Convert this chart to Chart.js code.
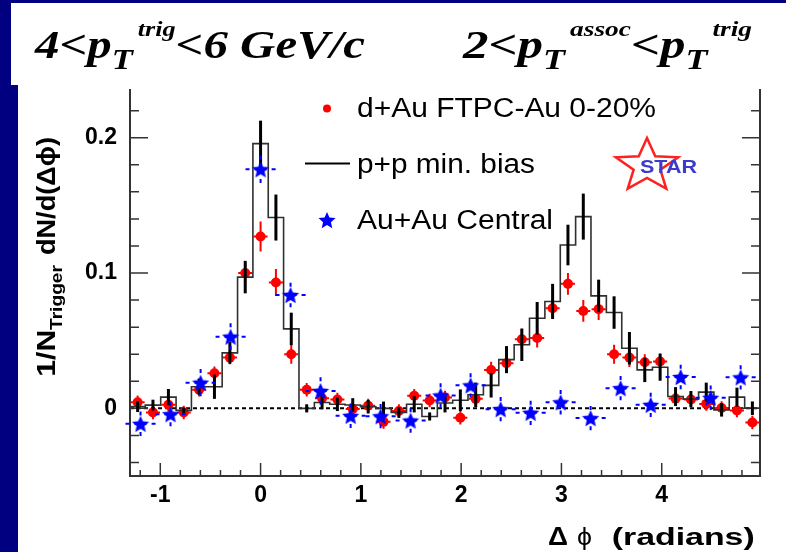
<!DOCTYPE html>
<html><head><meta charset="utf-8">
<script src="https://cdn.jsdelivr.net/npm/chart.js@4.4.0/dist/chart.umd.min.js"></script>
<style>html,body{margin:0;padding:0;background:#000080;overflow:hidden}canvas{display:block}</style>
</head><body>
<canvas id="c" width="786" height="552"></canvas>
<script>
// ---- data ----
const binCenters = [-1.226,-1.073,-0.919,-0.766,-0.613,-0.460,-0.306,-0.153,0,0.153,0.306,0.460,0.613,0.766,0.919,1.073,1.226,1.379,1.532,1.686,1.839,1.992,2.145,2.299,2.452,2.605,2.758,2.912,3.065,3.218,3.371,3.525,3.678,3.831,3.984,4.138,4.291,4.444,4.597,4.750,4.904];
const ppValues = [0.0013,0.0024,0.0083,-0.0015,0.016,0.016,0.041,0.097,0.1956,0.141,0.0587,0.0,0.0043,0.003,0.0025,0.0012,0.0,-0.003,0.003,-0.006,0.004,0.006,0.010,0.017,0.036,0.047,0.0666,0.079,0.1207,0.1417,0.0831,0.0708,0.0444,0.0284,0.0304,0.0087,0.0068,0.012,-0.0011,0.0083,0.0001];
const ppErr = [0.004,0.004,0.006,0.002,0.006,0.009,0.008,0.012,0.017,0.017,0.012,0.003,0.005,0.005,0.005,0.005,0.005,0.004,0.006,0.003,0.007,0.008,0.009,0.009,0.010,0.012,0.012,0.013,0.015,0.017,0.012,0.012,0.012,0.009,0.010,0.007,0.006,0.007,0.005,0.007,0.005];
const dAuValues = [0.0045,-0.003,0.0026,-0.003,0.0137,0.026,0.0375,0.100,0.127,0.093,0.040,0.0137,0.0075,0.0065,-0.0005,0.002,-0.010,-0.002,0.0093,0.0058,0.008,-0.007,0.007,0.0284,0.0334,0.051,0.052,0.074,0.092,0.072,0.0733,0.040,0.0375,0.034,0.0346,0.0072,0.0065,0.0033,0.0003,-0.0016,-0.0105];
const dAuErr = [0.005,0.005,0.005,0.005,0.005,0.005,0.005,0.0075,0.011,0.010,0.007,0.005,0.005,0.005,0.005,0.005,0.005,0.005,0.005,0.005,0.005,0.005,0.005,0.006,0.006,0.007,0.007,0.007,0.008,0.008,0.008,0.007,0.007,0.006,0.006,0.005,0.005,0.005,0.005,0.005,0.005];
const dAuXErr = 0.07;
const auauX = [-1.197,-0.898,-0.598,-0.299,0,0.299,0.598,0.898,1.197,1.496,1.795,2.094,2.394,2.693,2.992,3.291,3.590,3.890,4.189,4.488,4.787];
const auauValues = [-0.0114,-0.0043,0.019,0.053,0.1767,0.0838,0.0129,-0.0055,-0.0058,-0.009,0.0095,0.017,-0.0006,-0.0033,0.0045,-0.0072,0.0149,0.0026,0.0232,0.0078,0.0229];
const auauErr = [0.009,0.009,0.010,0.0098,0.0102,0.009,0.010,0.009,0.009,0.009,0.009,0.009,0.009,0.009,0.009,0.009,0.009,0.009,0.009,0.009,0.009];
const auauXErr = 0.15;
const xTickVals = [-1,0,1,2,3,4];
const yTickVals = [0,0.1,0.2];
const X_MIN = -1.302, X_MAX = 4.98, Y_MIN = -0.05, Y_MAX = 0.236;
const legendLabels = ['d+Au FTPC-Au 0-20%','p+p min. bias','Au+Au Central'];

const SANS = '"Liberation Sans", Arial, Helvetica, sans-serif';
const SERIF = '"Liberation Serif", "Times New Roman", serif';

// filled five-point star marker
function makeStar(R, color){
  const s = Math.ceil(R*2)+2, c = document.createElement('canvas');
  c.width = s; c.height = s; const g = c.getContext('2d');
  starPath(g, s/2, s/2 + R*0.1, R, R*0.46, 1);
  g.fillStyle = color; g.fill();
  return c;
}
function starPath(g, cx, cy, R, r, sx){
  g.beginPath();
  for (let i=0;i<10;i++){
    const rad = i%2===0 ? R : r;
    const a = -Math.PI/2 + i*Math.PI/5;
    const px = cx + Math.cos(a)*rad*sx, py = cy + Math.sin(a)*rad;
    if (i===0) g.moveTo(px,py); else g.lineTo(px,py);
  }
  g.closePath();
}
const starImg = makeStar(9, '#0000ff');
const starLegend = makeStar(9, '#0000ff');

function fitText(ctx, text, x, y, font, w){
  ctx.font = font;
  const m = ctx.measureText(text).width;
  ctx.save(); ctx.translate(x, y); ctx.scale(w/m, 1);
  ctx.textAlign = 'left'; ctx.textBaseline = 'alphabetic';
  ctx.fillText(text, 0, 0); ctx.restore();
}
function drawRuns(ctx, runs, x0, w){
  let tot = 0;
  runs.forEach(r=>{ ctx.font = r.f; r.w = ctx.measureText(r.t).width; tot += r.w + (r.g||0); });
  const s = w/tot;
  ctx.save(); ctx.translate(x0, 0); ctx.scale(s, 1);
  ctx.textAlign='left'; ctx.textBaseline='alphabetic';
  let x = 0;
  runs.forEach(r=>{ ctx.font = r.f; ctx.fillText(r.t, x, r.y); x += r.w + (r.g||0); });
  ctx.restore();
}

const deco = {
  id: 'deco',
  beforeDraw(chart){
    const c = chart.ctx; c.save();
    c.fillStyle = '#000080'; c.fillRect(0,0,786,552);
    c.fillStyle = '#ffffff'; c.fillRect(11,3,775,82); c.fillRect(18,85,768,467);
    c.restore();
  },
  beforeDatasetsDraw(chart){
    const c = chart.ctx, xs = chart.scales.x, ys = chart.scales.y, a = chart.chartArea;
    c.save();
    // zero line
    c.strokeStyle = '#000'; c.lineWidth = 2; c.setLineDash([4,3]);
    const y0 = ys.getPixelForValue(0);
    c.beginPath(); c.moveTo(a.left, y0); c.lineTo(a.right, y0); c.stroke();
    c.setLineDash([]);
    // frame
    c.strokeStyle = '#333'; c.lineWidth = 2;
    c.beginPath(); c.moveTo(a.left, a.top); c.lineTo(a.left, a.bottom); c.lineTo(a.right, a.bottom); c.lineTo(a.right, a.top); c.stroke();
    // y ticks
    c.lineWidth = 1.5;
    for (let k=-2;k<=11;k++){
      const v = k*0.02, p = ys.getPixelForValue(v);
      if (p < a.top || p > a.bottom) continue;
      const L = (k%5===0) ? 18 : 9;
      c.beginPath(); c.moveTo(a.left, p); c.lineTo(a.left+L, p); c.moveTo(a.right, p); c.lineTo(a.right-L, p); c.stroke();
    }
    // x ticks
    for (let k=-6;k<=24;k++){
      const v = k*0.2, p = xs.getPixelForValue(v);
      if (p < a.left || p > a.right) continue;
      const L = (k%5===0) ? 13 : 6;
      c.beginPath(); c.moveTo(p, a.bottom); c.lineTo(p, a.bottom-L); c.stroke();
    }
    c.restore();
  },
  beforeDatasetDraw(chart, args){
    const ds = chart.data.datasets[args.index];
    const c = chart.ctx, xs = chart.scales.x, ys = chart.scales.y;
    c.save();
    if (ds.label === legendLabels[0]){
      c.strokeStyle = '#ff0000'; c.lineWidth = 2;
      binCenters.forEach((x,i)=>{
        const px = xs.getPixelForValue(x), py = ys.getPixelForValue(dAuValues[i]);
        c.beginPath();
        c.moveTo(px, ys.getPixelForValue(dAuValues[i]+dAuErr[i])); c.lineTo(px, ys.getPixelForValue(dAuValues[i]-dAuErr[i]));
        c.moveTo(xs.getPixelForValue(x-dAuXErr), py); c.lineTo(xs.getPixelForValue(x+dAuXErr), py);
        c.stroke();
      });
    }
    if (ds.label === legendLabels[2]){
      c.strokeStyle = '#0000ff'; c.lineWidth = 2; c.setLineDash([4,5]);
      auauX.forEach((x,i)=>{
        const px = xs.getPixelForValue(x), py = ys.getPixelForValue(auauValues[i]);
        const ends = [[px, ys.getPixelForValue(auauValues[i]+auauErr[i])],[px, ys.getPixelForValue(auauValues[i]-auauErr[i])],
                      [xs.getPixelForValue(x-auauXErr), py],[Math.min(xs.getPixelForValue(x+auauXErr), chart.chartArea.right), py]];
        ends.forEach(e=>{ c.beginPath(); c.moveTo(e[0], e[1]); c.lineTo(px, py); c.stroke(); });
      });
    }
    c.restore();
  },
  afterDatasetDraw(chart, args){
    const ds = chart.data.datasets[args.index];
    if (ds.label !== legendLabels[1]) return;
    const c = chart.ctx, xs = chart.scales.x, ys = chart.scales.y;
    c.save(); c.strokeStyle = '#000'; c.lineWidth = 3;
    binCenters.forEach((x,i)=>{
      const px = xs.getPixelForValue(x);
      c.beginPath(); c.moveTo(px, ys.getPixelForValue(ppValues[i]+ppErr[i])); c.lineTo(px, ys.getPixelForValue(ppValues[i]-ppErr[i])); c.stroke();
    });
    c.restore();
  },
  afterDraw(chart){
    const c = chart.ctx; c.save(); c.fillStyle = '#000';
    // title
    const big = 'italic bold 41px '+SERIF, sub = 'italic bold 29px '+SERIF, sup = 'italic bold 22px '+SERIF;
    drawRuns(c, [{t:'4<p',f:big,y:58},{t:'T',f:sub,y:69,g:4},{t:'trig',f:sup,y:36},{t:'<6 GeV/c',f:big,y:58}], 35, 330);
    drawRuns(c, [{t:'2<p',f:big,y:58},{t:'T',f:sub,y:69,g:4},{t:'assoc',f:sup,y:36},{t:'<p',f:big,y:58},{t:'T',f:sub,y:69,g:4},{t:'trig',f:sup,y:36}], 463, 289);
    // legend
    c.fillStyle = '#ff0000'; c.beginPath(); c.arc(327, 108.5, 4, 0, Math.PI*2); c.fill();
    c.strokeStyle = '#000'; c.lineWidth = 2; c.beginPath(); c.moveTo(305,163.5); c.lineTo(350,163.5); c.stroke();
    c.drawImage(starLegend, 327 - starLegend.width/2, 220 - starLegend.height/2);
    c.fillStyle = '#000';
    const lf = '27px '+SANS;
    fitText(c, legendLabels[0], 357, 117, lf, 299);
    fitText(c, legendLabels[1], 357, 173, lf, 178);
    fitText(c, legendLabels[2], 357, 228.5, lf, 196);
    // y axis title (rotated)
    c.save(); c.translate(55, 376.7); c.rotate(-Math.PI/2);
    fitText(c, '1/N', 0, 0, 'bold 25px '+SANS, 47);
    c.restore();
    c.save(); c.translate(62, 330); c.rotate(-Math.PI/2);
    fitText(c, 'Trigger', 0, 0, 'bold 17px '+SANS, 65);
    c.restore();
    c.save(); c.translate(55, 255); c.rotate(-Math.PI/2);
    fitText(c, 'dN/d(\u0394\u03D5)', 0, 0, 'bold 25px '+SANS, 118);
    c.restore();
    // x axis title
    fitText(c, '\u0394', 548, 545, 'bold 25px '+SANS, 20);
    fitText(c, '\u03D5', 577, 545, '24px '+SANS, 15);
    fitText(c, '(radians)', 611.7, 545, 'bold 24px '+SANS, 143);
    // STAR logo
    c.strokeStyle = '#ff2020'; c.lineWidth = 2.5;
    starPath(c, 647, 166, 28, 12, 1.17); c.stroke();
    c.fillStyle = '#3c3ccc';
    fitText(c, 'STAR', 640, 173, 'bold 19px '+SANS, 57);
    c.restore();
  }
};

const tickFont = {family: SANS, size: 23, weight: 'bold'};
new Chart(document.getElementById('c'), {
  type: 'scatter',
  data: {
    datasets: [
      { label: legendLabels[2], order: 0, data: auauX.map((x,i)=>({x, y: auauValues[i]})),
        pointStyle: starImg, pointRadius: 9, showLine: false },
      { label: legendLabels[1], order: 1, type: 'line', showLine: true, stepped: 'middle', fill: false,
        borderColor: '#303030', borderWidth: 1.6, pointRadius: 0,
        data: [{x: X_MIN, y: ppValues[0]}].concat(binCenters.map((x,i)=>({x, y: ppValues[i]})), [{x: X_MAX, y: ppValues[ppValues.length-1]}]) },
      { label: legendLabels[0], order: 2, data: binCenters.map((x,i)=>({x, y: dAuValues[i]})),
        pointStyle: 'circle', pointRadius: 5, backgroundColor: '#ff0000', borderWidth: 0, showLine: false }
    ]
  },
  plugins: [deco],
  options: {
    responsive: false, animation: false, devicePixelRatio: 1,
    layout: {padding: {left: 0, top: 89, right: 26, bottom: 0}},
    plugins: {legend: {display: false}, tooltip: {enabled: false}},
    scales: {
      x: { type: 'linear', min: X_MIN, max: X_MAX, grid: {display: false}, border: {display: false},
           ticks: {font: tickFont, color: '#000', padding: -2, maxRotation: 0, autoSkip: false,
                   callback: v => String(v)},
           afterBuildTicks: s => { s.ticks = xTickVals.map(v => ({value: v})); },
           afterFit: s => { s.height = 76; } },
      y: { type: 'linear', min: Y_MIN, max: Y_MAX, grid: {display: false}, border: {display: false},
           ticks: {font: tickFont, color: '#000', padding: 5, autoSkip: false,
                   callback: v => (v === 0 ? '0' : String(v))},
           afterBuildTicks: s => { s.ticks = yTickVals.map(v => ({value: v})); },
           afterFit: s => { s.width = 130; } }
    }
  }
});
</script>
</body></html>
